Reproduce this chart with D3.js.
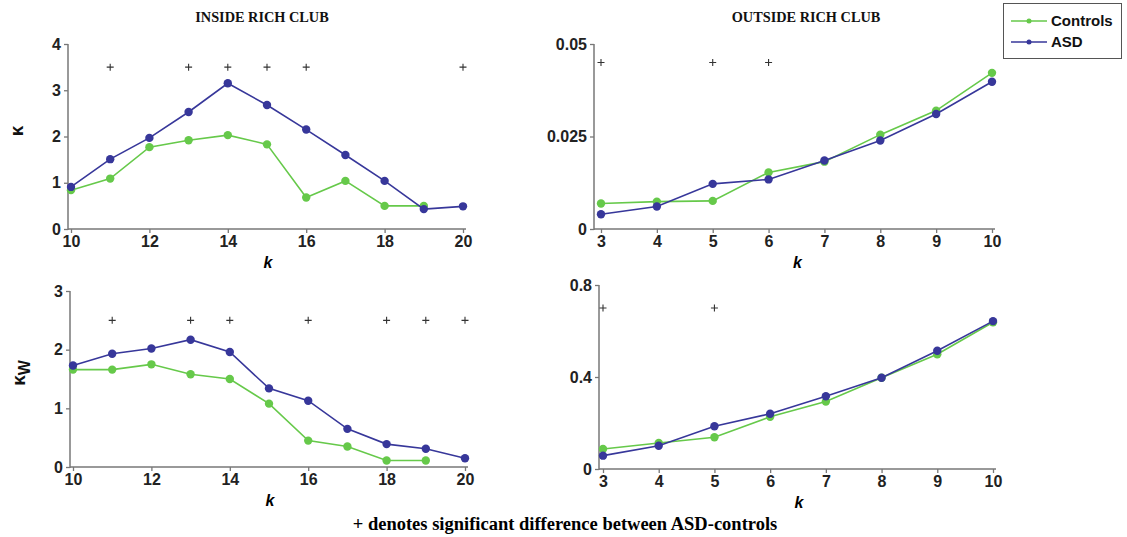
<!DOCTYPE html>
<html>
<head>
<meta charset="utf-8">
<script src="https://cdn.jsdelivr.net/npm/d3@7"></script>
<style>
  body { margin: 0; background: #fff; }
  svg { display: block; }
  .tick text { font-family: Arial, "Liberation Sans", sans-serif; font-weight: bold; font-size: 16px; fill: #222; }
  .ttl { font-family: "Liberation Serif", "Times New Roman", serif; font-weight: bold; font-size: 14.3px; fill: #111; }
</style>
</head>
<body>
<div id="chart"></div>
<script>
// series
var kInside = [10, 11, 12, 13, 14, 15, 16, 17, 18, 19, 20];
var kOutside = [3, 4, 5, 6, 7, 8, 9, 10];

var kappaInCtrl = [0.84, 1.09, 1.77, 1.92, 2.03, 1.83, 0.68, 1.04, 0.50, 0.50];
var kappaInASD  = [0.91, 1.51, 1.97, 2.53, 3.15, 2.68, 2.15, 1.60, 1.04, 0.43, 0.49];
var kappaOutCtrl = [0.0069, 0.0074, 0.0076, 0.0153, 0.0182, 0.0255, 0.0320, 0.0422];
var kappaOutASD  = [0.0040, 0.0061, 0.0122, 0.0134, 0.0185, 0.0239, 0.0311, 0.0398];

var kwInCtrl = [1.66, 1.66, 1.75, 1.58, 1.50, 1.08, 0.45, 0.35, 0.11, 0.11];
var kwInASD  = [1.73, 1.93, 2.02, 2.17, 1.96, 1.34, 1.13, 0.65, 0.39, 0.31, 0.15];
var kwOutCtrl = [0.087, 0.113, 0.138, 0.227, 0.293, 0.397, 0.499, 0.638];
var kwOutASD  = [0.058, 0.101, 0.186, 0.240, 0.316, 0.397, 0.514, 0.643];

// where the + marks sit
var sigKappaIn = [11, 13, 14, 15, 16, 20];
var sigKappaOut = [3, 5, 6];
var sigKwIn = [11, 13, 14, 16, 18, 19, 20];
var sigKwOut = [3, 5];

var seriesNames = ["Controls", "ASD"];
var colors = {"Controls": "#66c94a", "ASD": "#37379a"};

var svg = d3.select("#chart").append("svg")
  .attr("width", 1127).attr("height", 537);

function panel(p) {
  var x = d3.scaleLinear().domain(p.xDomain).range([p.x0, p.x1]);
  var y = d3.scaleLinear().domain(p.yDomain).range([p.yBottom, p.yTop]);
  var g = svg.append("g");

  // axes
  var yAx = g.append("g").attr("transform", "translate(" + p.axisX + ",0)")
    .call(d3.axisLeft(y).tickValues(p.yTicks).tickSize(4).tickSizeOuter(0).tickFormat(function(d, i){ return p.yLabels[i]; }));
  var xAx = g.append("g").attr("transform", "translate(0," + p.yBottom + ")")
    .call(d3.axisBottom(x).tickValues(p.xTicks).tickSize(4).tickSizeOuter(0).tickFormat(d3.format("d")));
  [yAx, xAx].forEach(function(a){
    a.select(".domain").remove();
    a.selectAll(".tick line").attr("stroke", "#777").attr("stroke-width", 1.3);
  });
  yAx.selectAll(".tick text").attr("x", -7);
  xAx.selectAll(".tick text").attr("y", 7);
  g.append("line").attr("x1", p.axisX).attr("x2", p.axisX)
    .attr("y1", p.yTop).attr("y2", p.yBottom + 1)
    .attr("stroke", "#777").attr("stroke-width", 1.5);
  g.append("line").attr("x1", p.axisX).attr("x2", p.x1 + 3)
    .attr("y1", p.yBottom).attr("y2", p.yBottom)
    .attr("stroke", "#777").attr("stroke-width", 1.5);

  // x label
  g.append("text").attr("x", (p.x0 + p.x1) / 2 + 1).attr("y", p.yBottom + 39)
    .attr("text-anchor", "middle")
    .style("font-family", "Arial, 'Liberation Sans', sans-serif")
    .style("font-style", "italic").style("font-weight", "bold").style("font-size", "16px")
    .text("k");

  // lines
  var line = d3.line().x(function(d){ return x(d[0]); }).y(function(d){ return y(d[1]); });
  p.series.forEach(function(s){
    var pts = s.values.map(function(v, i){ return [p.xs[i], v]; });
    g.append("path").datum(pts).attr("d", line)
      .attr("fill", "none").attr("stroke", colors[s.name]).attr("stroke-width", 1.6);
    g.selectAll(null).data(pts).enter().append("circle")
      .attr("cx", function(d){ return x(d[0]); })
      .attr("cy", function(d){ return y(d[1]); })
      .attr("r", 4.2).attr("fill", colors[s.name]);
  });

  // significance marks (thin crosses)
  g.selectAll(null).data(p.sig).enter().append("path")
    .attr("transform", function(d){ return "translate(" + x(d) + "," + y(p.sigY) + ")"; })
    .attr("d", "M-3.5,0H3.5M0,-3.5V3.5")
    .attr("stroke", "#333").attr("stroke-width", 1.1).attr("fill", "none");

  // y label
  if (p.yLabel) {
    var t = g.append("text")
      .attr("transform", "translate(" + p.yLabel.x + "," + p.yLabel.y + ") rotate(-90)")
      .attr("text-anchor", "middle")
      .style("font-family", "Arial, 'Liberation Sans', sans-serif")
      .style("font-weight", "bold").style("font-size", "19px").style("fill", "#111");
    t.append("tspan").text("\u03ba");
    if (p.yLabel.sub) t.append("tspan").attr("dy", 5).style("font-size", "16px").text(p.yLabel.sub);
  }
}

panel({
  xDomain: [10, 20], x0: 71, x1: 463, yDomain: [0, 4], yTop: 44, yBottom: 229, axisX: 68,
  xTicks: [10, 12, 14, 16, 18, 20], yTicks: [0, 1, 2, 3, 4], yLabels: ["0", "1", "2", "3", "4"],
  xs: kInside,
  series: [{name: "Controls", values: kappaInCtrl}, {name: "ASD", values: kappaInASD}],
  sig: sigKappaIn, sigY: 3.5, yLabel: {x: 23, y: 131, sub: ""}
});
panel({
  xDomain: [3, 10], x0: 601, x1: 992, yDomain: [0, 0.05], yTop: 44, yBottom: 229, axisX: 594,
  xTicks: kOutside, yTicks: [0, 0.025, 0.05], yLabels: ["0", "0.025", "0.05"],
  xs: kOutside,
  series: [{name: "Controls", values: kappaOutCtrl}, {name: "ASD", values: kappaOutASD}],
  sig: sigKappaOut, sigY: 0.045
});
panel({
  xDomain: [10, 20], x0: 73, x1: 465, yDomain: [0, 3], yTop: 291, yBottom: 467, axisX: 70,
  xTicks: [10, 12, 14, 16, 18, 20], yTicks: [0, 1, 2, 3], yLabels: ["0", "1", "2", "3"],
  xs: kInside,
  series: [{name: "Controls", values: kwInCtrl}, {name: "ASD", values: kwInASD}],
  sig: sigKwIn, sigY: 2.5, yLabel: {x: 25, y: 373, sub: "W"}
});
panel({
  xDomain: [3, 10], x0: 603, x1: 993, yDomain: [0, 0.8], yTop: 285, yBottom: 469, axisX: 599,
  xTicks: kOutside, yTicks: [0, 0.4, 0.8], yLabels: ["0", "0.4", "0.8"],
  xs: kOutside,
  series: [{name: "Controls", values: kwOutCtrl}, {name: "ASD", values: kwOutASD}],
  sig: sigKwOut, sigY: 0.7
});

// titles
svg.append("text").attr("class", "ttl").attr("x", 262).attr("y", 22).attr("text-anchor", "middle").text("INSIDE RICH CLUB");
svg.append("text").attr("class", "ttl").attr("x", 806).attr("y", 22).attr("text-anchor", "middle").text("OUTSIDE RICH CLUB");
svg.append("text").attr("x", 565).attr("y", 530).attr("text-anchor", "middle")
  .style("font-family", "'Liberation Serif', 'Times New Roman', serif").style("font-weight", "bold").style("font-size", "18.5px")
  .text("+ denotes significant difference between ASD-controls");

// legend
var leg = svg.append("g");
leg.append("rect").attr("x", 1003.5).attr("y", 3.5).attr("width", 118).attr("height", 55)
  .attr("fill", "#fff").attr("stroke", "#555").attr("stroke-width", 1);
seriesNames.forEach(function(n, i){
  var yy = 21 + i * 21;
  leg.append("line").attr("x1", 1011).attr("x2", 1047).attr("y1", yy).attr("y2", yy)
    .attr("stroke", colors[n]).attr("stroke-width", 1.6);
  leg.append("circle").attr("cx", 1029).attr("cy", yy).attr("r", 2.5).attr("fill", colors[n]);
  leg.append("text").attr("x", 1051).attr("y", yy + 5)
    .style("font-family", "Arial, 'Liberation Sans', sans-serif").style("font-weight", "bold").style("font-size", "15px").style("fill", "#111")
    .text(n);
});
</script>
</body>
</html>
